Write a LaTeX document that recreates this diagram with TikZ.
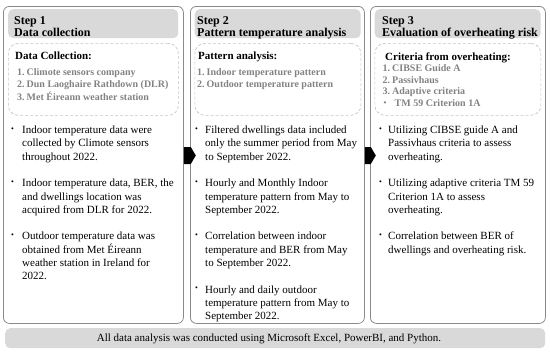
\documentclass[tikz,border=0pt]{standalone}
\usepackage{fontspec}
\setmainfont{Liberation Serif}
\definecolor{bordergray}{HTML}{8A8A8A}
\definecolor{hdrgray}{HTML}{D9D9D9}
\definecolor{dashgray}{HTML}{C4C4C4}
\definecolor{listgray}{HTML}{828282}
\begin{document}
\begin{tikzpicture}[x=1pt,y=-1pt,
  outer/.style={draw=bordergray, line width=0.8pt, rounded corners=6pt, rectangle, inner sep=0pt, anchor=north west},
  hdr/.style={fill=hdrgray, rounded corners=5pt, rectangle, inner sep=0pt, anchor=north west},
  dbox/.style={draw=dashgray, line width=0.7pt, dash pattern=on 3pt off 2pt, rounded corners=10pt, rectangle, inner sep=0pt, anchor=north west},
  hdrtxt/.style={anchor=base west, inner sep=0pt, align=left, font=\fontsize{12}{12.5}\selectfont\bfseries},
  ttl/.style={anchor=base west, inner sep=0pt, font=\fontsize{11}{12}\selectfont\bfseries},
  lst/.style={anchor=base west, inner sep=0pt, align=left, text=listgray, font=\fontsize{10}{12.5}\selectfont\bfseries},
  bul/.style={anchor=base west, inner sep=0pt, font=\fontsize{8}{10}\selectfont},
  para/.style={anchor=base west, inner sep=0pt, align=left, font=\fontsize{11}{13.3}\selectfont},
  arrowfill/.style={fill=black}
]
\useasboundingbox (0,0) rectangle (550,354);
\newcommand{\numb}[1]{\makebox[9.5pt][l]{#1}}
% column boxes
\node[outer, minimum width=180pt, minimum height=317pt] (c1) at (3,6) {};
\node[outer, minimum width=174pt, minimum height=317pt] (c2) at (190,6) {};
\node[outer, minimum width=175pt, minimum height=317pt] (c3) at (370,6) {};
% headers
\node[hdr, minimum width=170pt, minimum height=29pt] (h1) at (8,9) {};
\node[hdr, minimum width=166pt, minimum height=29pt] (h2) at (194.5,9) {};
\node[hdr, minimum width=166pt, minimum height=29pt] (h3) at (374.5,9) {};
% (multi-line nodes are anchored at the baseline of their last line)
\node[hdrtxt] (h1t) at (14,36.5) {Step 1\\Data collection};
\node[hdrtxt] (h2t) at (197,36.5) {Step 2\\Pattern temperature analysis};
\node[hdrtxt] (h3t) at (382,36.5) {Step 3\\Evaluation of overheating risk};
% dashed boxes
\node[dbox, minimum width=170pt, minimum height=72pt] (d1) at (8,43) {};
\node[dbox, minimum width=166pt, minimum height=72pt] (d2) at (194.5,43) {};
\node[dbox, minimum width=166pt, minimum height=72pt] (d3) at (374.5,43) {};
\node[ttl] (t1) at (15,59) {Data Collection:};
\node[ttl] (t2) at (198,59) {Pattern analysis:};
\node[ttl] (t3) at (385,60) {Criteria from overheating:};
\node[lst] (l1) at (17,100) {\numb{1.}Climote sensors company\\\numb{2.}Dun Laoghaire Rathdown (DLR)\\\numb{3.}Met Éireann weather station};
\node[lst] (l2) at (197,87.5) {\numb{1.}Indoor temperature pattern\\\numb{2.}Outdoor temperature pattern};
\node[lst, font=\fontsize{10}{11.7}\selectfont\bfseries] (l3) at (382.5,106.6) {\numb{1.}CIBSE Guide A\\\numb{2.}Passivhaus\\\numb{3.}Adaptive criteria\\\makebox[12pt][l]{\hspace{1pt}\raisebox{0.8pt}{\fontsize{8}{8}\selectfont\textbullet}}TM 59 Criterion 1A};
% column 1 bullets
\node[bul] (b11) at (11,131) {\textbullet};
\node[para] (p11) at (22,160.1) {Indoor temperature data were\\collected by Climote sensors\\throughout 2022.};
\node[bul] (b12) at (11,184.2) {\textbullet};
\node[para] (p12) at (22,213.3) {Indoor temperature data, BER, the\\and dwellings location was\\acquired from DLR for 2022.};
\node[bul] (b13) at (11,237.4) {\textbullet};
\node[para] (p13) at (22,279.8) {Outdoor temperature data was\\obtained from Met Éireann\\weather station in Ireland for\\2022.};
% column 2 bullets
\node[bul] (b21) at (195,131) {\textbullet};
\node[para] (p21) at (205,160.1) {Filtered dwellings data included\\only the summer period from May\\to September 2022.};
\node[bul] (b22) at (195,184.2) {\textbullet};
\node[para] (p22) at (205,213.3) {Hourly and Monthly Indoor\\temperature pattern from May to\\September 2022.};
\node[bul] (b23) at (195,237.4) {\textbullet};
\node[para] (p23) at (205,266.5) {Correlation between indoor\\temperature and BER from May\\to September 2022.};
\node[bul] (b24) at (195,290.6) {\textbullet};
\node[para] (p24) at (205,319.7) {Hourly and daily outdoor\\temperature pattern from May to\\September 2022.};
% column 3 bullets
\node[bul] (b31) at (379,131) {\textbullet};
\node[para] (p31) at (388,160.1) {Utilizing CIBSE guide A and\\Passivhaus criteria to assess\\overheating.};
\node[bul] (b32) at (379,184.2) {\textbullet};
\node[para] (p32) at (388,213.3) {Utilizing adaptive criteria TM 59\\Criterion 1A to assess\\overheating.};
\node[bul] (b33) at (379,237.4) {\textbullet};
\node[para] (p33) at (388,253.2) {Correlation between BER of\\dwellings and overheating risk.};
% arrows between steps
\fill[arrowfill] (c1.east |- 0,147) -- ++(7,0) -- ++(5,8.5) -- ++(-5,8.5) -- ++(-7,0) -- cycle;
\fill[arrowfill] (c2.east |- 0,147) -- ++(6,0) -- ++(5,8.5) -- ++(-5,8.5) -- ++(-6,0) -- cycle;
% bottom bar
\node[hdr, minimum width=540pt, minimum height=20pt] (bar) at (5,328) {};
\node[anchor=base, inner sep=0pt, font=\fontsize{11}{13}\selectfont] (bart) at (269,341.5) {All data analysis was conducted using Microsoft Excel, PowerBI, and Python.};
\end{tikzpicture}
\end{document}
